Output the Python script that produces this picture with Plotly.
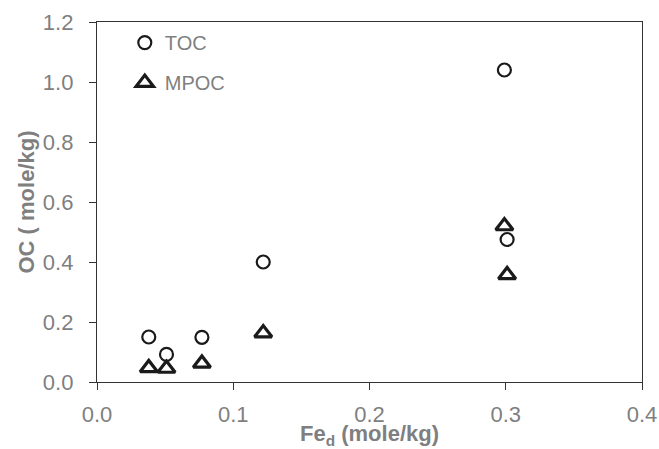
import plotly.graph_objects as go

toc_x = [0.038, 0.051, 0.077, 0.122, 0.299, 0.301]
toc_y = [0.15, 0.092, 0.149, 0.40, 1.04, 0.475]
mpoc_x = [0.038, 0.051, 0.077, 0.122, 0.299, 0.301]
mpoc_y = [0.047, 0.045, 0.062, 0.163, 0.52, 0.357]

x_ticks = [0.0, 0.1, 0.2, 0.3, 0.4]
x_tick_labels = ["0.0", "0.1", "0.2", "0.3", "0.4"]
y_ticks = [0.0, 0.2, 0.4, 0.6, 0.8, 1.0, 1.2]
y_tick_labels = ["0.0", "0.2", "0.4", "0.6", "0.8", "1.0", "1.2"]

FONT = "Liberation Sans, Arial, sans-serif"
GRAY = "#7f7f7f"

fig = go.Figure()
fig.add_trace(go.Scatter(
    x=toc_x, y=toc_y, mode="markers", name="TOC", legendgroup="a",
    marker=dict(symbol="circle-open", size=13, color="#1a1a1a", line=dict(width=2.2, color="#1a1a1a")),
))
fig.add_trace(go.Scatter(
    x=mpoc_x, y=mpoc_y, mode="markers", name="MPOC", legendgroup="b",
    marker=dict(symbol="triangle-up-open", size=15, color="#1a1a1a", line=dict(width=3.2, color="#1a1a1a")),
))

axis_common = dict(
    showline=True, linecolor="#333333", linewidth=1.3, mirror=True,
    ticks="outside", ticklen=7, tickwidth=1.3, tickcolor="#333333",
    showgrid=False, zeroline=False, automargin=False,
    tickfont=dict(family=FONT, size=22, color=GRAY),
)

fig.update_layout(
    width=659, height=449,
    margin=dict(l=97, r=17, t=22, b=67, autoexpand=False),
    paper_bgcolor="white", plot_bgcolor="white",
    showlegend=True,
    legend=dict(
        x=0.051, y=0.997, xanchor="left", yanchor="top",
        font=dict(family=FONT, size=20, color=GRAY),
        bgcolor="rgba(0,0,0,0)", tracegroupgap=11, traceorder="grouped",
        itemwidth=30,
    ),
    xaxis=dict(
        range=[0, 0.4], tickvals=x_ticks, ticktext=x_tick_labels,
        ticklabelstandoff=5,
        title=dict(text="<b>Fe<sub>d</sub> (mole/kg)</b>", standoff=5,
                   font=dict(family=FONT, size=22, color=GRAY)),
        **axis_common,
    ),
    yaxis=dict(
        range=[0, 1.2], tickvals=y_ticks, ticktext=y_tick_labels,
        ticklabelstandoff=11,
        title=dict(text="<b>OC ( mole/kg)</b>", standoff=2,
                   font=dict(family=FONT, size=22, color=GRAY)),
        **axis_common,
    ),
)

fig.write_html(
    "out.html",
    config={"displayModeBar": False},
    post_script="document.body.style.margin='0';document.body.style.overflow='hidden';",
)
